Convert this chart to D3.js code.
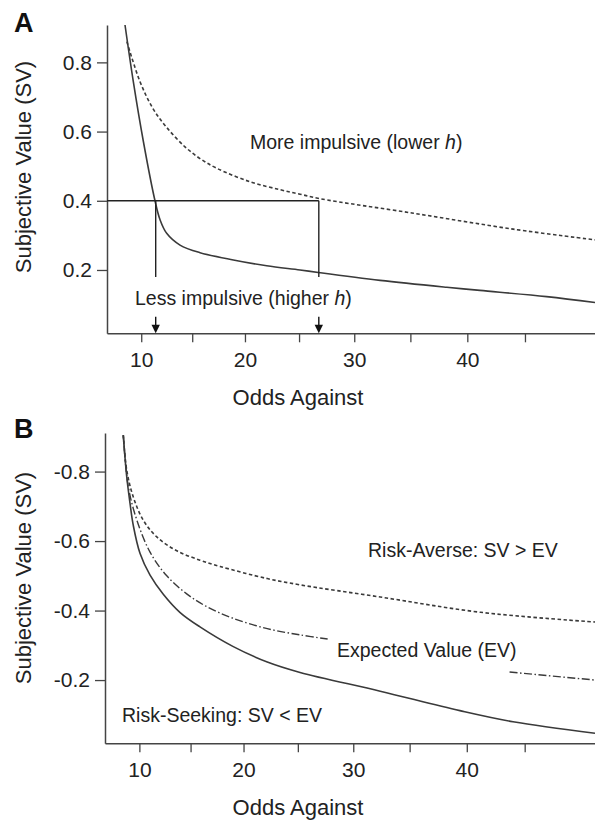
<!DOCTYPE html>
<html>
<head>
<meta charset="utf-8">
<script src="https://cdn.jsdelivr.net/npm/d3@7"></script>
<style>
  html, body { margin: 0; padding: 0; background: #fff; }
  svg { display: block; font-family: "Liberation Sans", Arial, sans-serif; }
</style>
</head>
<body>
<svg id="chart" width="595" height="823"></svg>
<script>
// ---------------- DATA ----------------
const xTicks = [10, 15, 20, 25, 30, 35, 40, 45];
const xTickLabels = [10, 20, 30, 40];
const yTicksA = [0.2, 0.4, 0.6, 0.8];
const yTicksB = [-0.2, -0.4, -0.6, -0.8];

// Panel A: less impulsive (higher h) - solid
const lessImpulsive = [
  [8.36, 0.908], [9.20, 0.745], [10.21, 0.572], [11.37, 0.400], [11.87, 0.345],
  [12.52, 0.306], [13.82, 0.272], [15.75, 0.250], [18.91, 0.229], [22.02, 0.212],
  [25.09, 0.200], [26.91, 0.192], [32.31, 0.170], [38.2, 0.150], [41.1, 0.141],
  [46.86, 0.123], [51.0, 0.106]
];
// Panel A: more impulsive (lower h) - dashed
const moreImpulsive = [
  [8.55, 0.86], [9.88, 0.744], [11.20, 0.665], [12.52, 0.612], [14.3, 0.556],
  [15.75, 0.522], [17.34, 0.494], [20.47, 0.455], [23.25, 0.432], [25.09, 0.419],
  [26.91, 0.406], [35.27, 0.364], [43.99, 0.318], [51.0, 0.287]
];
// Panel A reference: SV = 0.4 and the two odds where each curve reaches it
const refSV = 0.4;
const refOdds = [11.44, 26.8];
const refDropTo = 0.18;

// Panel B: risk-seeking (solid)
const riskSeeking = [
  [8.38, -0.905], [8.73, -0.785], [9.06, -0.709], [9.39, -0.645], [10.06, -0.565],
  [11.06, -0.502], [12.36, -0.447], [13.97, -0.395], [15.9, -0.353], [19.0, -0.297],
  [22.2, -0.252], [25.2, -0.222], [32.4, -0.168], [39.4, -0.112], [44.0, -0.080],
  [51.0, -0.047]
];
// Panel B: expected value (dash-dot), null marks the gap behind its label
const expectedValue = [
  [8.38, -0.905], [8.89, -0.756], [9.73, -0.662], [11.06, -0.568], [12.7, -0.500],
  [14.63, -0.448], [16.5, -0.412], [19.0, -0.378], [22.2, -0.348], [25.2, -0.330],
  [27.7, -0.318], [35, null], [43.7, -0.223], [51.0, -0.200]
];
// Panel B: risk-averse (dashed)
const riskAverse = [
  [8.38, -0.905], [8.73, -0.804], [9.39, -0.727], [10.39, -0.660], [11.72, -0.612],
  [13.67, -0.572], [15.9, -0.545], [17.8, -0.527], [22.2, -0.492], [25.2, -0.474],
  [32.4, -0.439], [41.2, -0.395], [51.0, -0.367]
];

// ---------------- DRAW ----------------
const svg = d3.select("#chart");
const ink = "#222";
const lineCol = "#3a3a3a";

function panel(cfg) {
  const g = svg.append("g");
  const x = d3.scalePow().exponent(1.1).domain([6.5, 51]).range([cfg.left, 595]);
  const y = d3.scaleLinear().domain(cfg.yDomain).range([cfg.bottom, cfg.top]);

  const xa = g.append("g").attr("transform", `translate(0,${cfg.bottom})`)
    .call(d3.axisBottom(x).tickValues(xTicks).tickSize(9).tickSizeOuter(0).tickPadding(10)
      .tickFormat(d => xTickLabels.includes(d) ? d : ""));
  const ya = g.append("g").attr("transform", `translate(${cfg.left},0)`)
    .call(d3.axisLeft(y).tickValues(cfg.yTicks).tickSize(10).tickSizeOuter(0).tickPadding(5)
      .tickFormat(d => d.toFixed(1)));
  [xa, ya].forEach(a => {
    a.select(".domain").attr("stroke", "#444").attr("stroke-width", 1.5);
    a.selectAll(".tick line").attr("stroke", "#444").attr("stroke-width", 1.3);
    a.selectAll(".tick text").attr("fill", ink).attr("font-size", 21)
      .attr("font-family", "Liberation Sans, Arial, sans-serif");
  });

  g.append("text").attr("x", 298).attr("y", cfg.bottom + 72).attr("text-anchor", "middle")
    .attr("font-size", 22).attr("fill", ink).text("Odds Against");
  g.append("text").attr("transform", `translate(31,${cfg.titleY}) rotate(-90)`)
    .attr("text-anchor", "middle").attr("font-size", 22).attr("fill", ink)
    .text("Subjective Value (SV)");
  g.append("text").attr("x", 14).attr("y", cfg.letterY).attr("font-size", 27)
    .attr("font-weight", "bold").attr("fill", "#111").text(cfg.letter);

  return { g, x, y };
}

function curve(p, data, dash, width) {
  const line = d3.line()
    .defined(d => d[1] !== null)
    .x(d => p.x(d[0])).y(d => p.y(d[1]))
    .curve(d3.curveCatmullRom.alpha(0.5));
  p.g.append("path").datum(data).attr("d", line)
    .attr("fill", "none").attr("stroke", lineCol).attr("stroke-width", width || 1.6)
    .attr("stroke-dasharray", dash || null);
}

// ----- Panel A -----
const A = panel({ left: 107, top: 25, bottom: 333.3, yDomain: [0.017, 0.908],
  yTicks: yTicksA, titleY: 167, letter: "A", letterY: 32 });

curve(A, moreImpulsive, "3.5,2.5", 1.6);
curve(A, lessImpulsive, null, 1.6);

A.g.append("line").attr("x1", A.x(6.5)).attr("x2", A.x(refOdds[1]))
  .attr("y1", A.y(refSV)).attr("y2", A.y(refSV)).attr("stroke", "#222").attr("stroke-width", 1.4);
refOdds.forEach(o => {
  A.g.append("line").attr("x1", A.x(o)).attr("x2", A.x(o))
    .attr("y1", A.y(refSV)).attr("y2", A.y(refDropTo)).attr("stroke", "#222").attr("stroke-width", 1.4);
  const ax = A.x(o), yb = A.y(0.017);
  A.g.append("line").attr("x1", ax).attr("x2", ax).attr("y1", yb - 16.5).attr("y2", yb - 7)
    .attr("stroke", "#111").attr("stroke-width", 1.4);
  A.g.append("path").attr("d", `M${ax - 4.2},${yb - 8.5} L${ax + 4.2},${yb - 8.5} L${ax},${yb} Z`)
    .attr("fill", "#111");
});

const tA1 = A.g.append("text").attr("x", 250).attr("y", 148.5).attr("font-size", 19.5).attr("fill", ink);
tA1.append("tspan").text("More impulsive (lower ");
tA1.append("tspan").attr("font-style", "italic").text("h");
tA1.append("tspan").text(")");
const tA2 = A.g.append("text").attr("x", 135).attr("y", 305).attr("font-size", 19.5).attr("fill", ink);
tA2.append("tspan").text("Less impulsive (higher ");
tA2.append("tspan").attr("font-style", "italic").text("h");
tA2.append("tspan").text(")");

// ----- Panel B -----
const B = panel({ left: 105, top: 433, bottom: 743.3, yDomain: [-0.018, -0.911],
  yTicks: yTicksB, titleY: 578, letter: "B", letterY: 438 });

curve(B, riskAverse, "3.5,2.5", 1.6);
curve(B, expectedValue, "8,2.5,1.5,2.5", 1.4);
curve(B, riskSeeking, null, 1.6);

B.g.append("text").attr("x", 368).attr("y", 557).attr("font-size", 19.5).attr("fill", ink)
  .text("Risk-Averse: SV > EV");
B.g.append("text").attr("x", 337).attr("y", 656.5).attr("font-size", 19.5).attr("fill", ink)
  .text("Expected Value (EV)");
B.g.append("text").attr("x", 122).attr("y", 722).attr("font-size", 19.5).attr("fill", ink)
  .text("Risk-Seeking: SV < EV");
</script>
</body>
</html>
